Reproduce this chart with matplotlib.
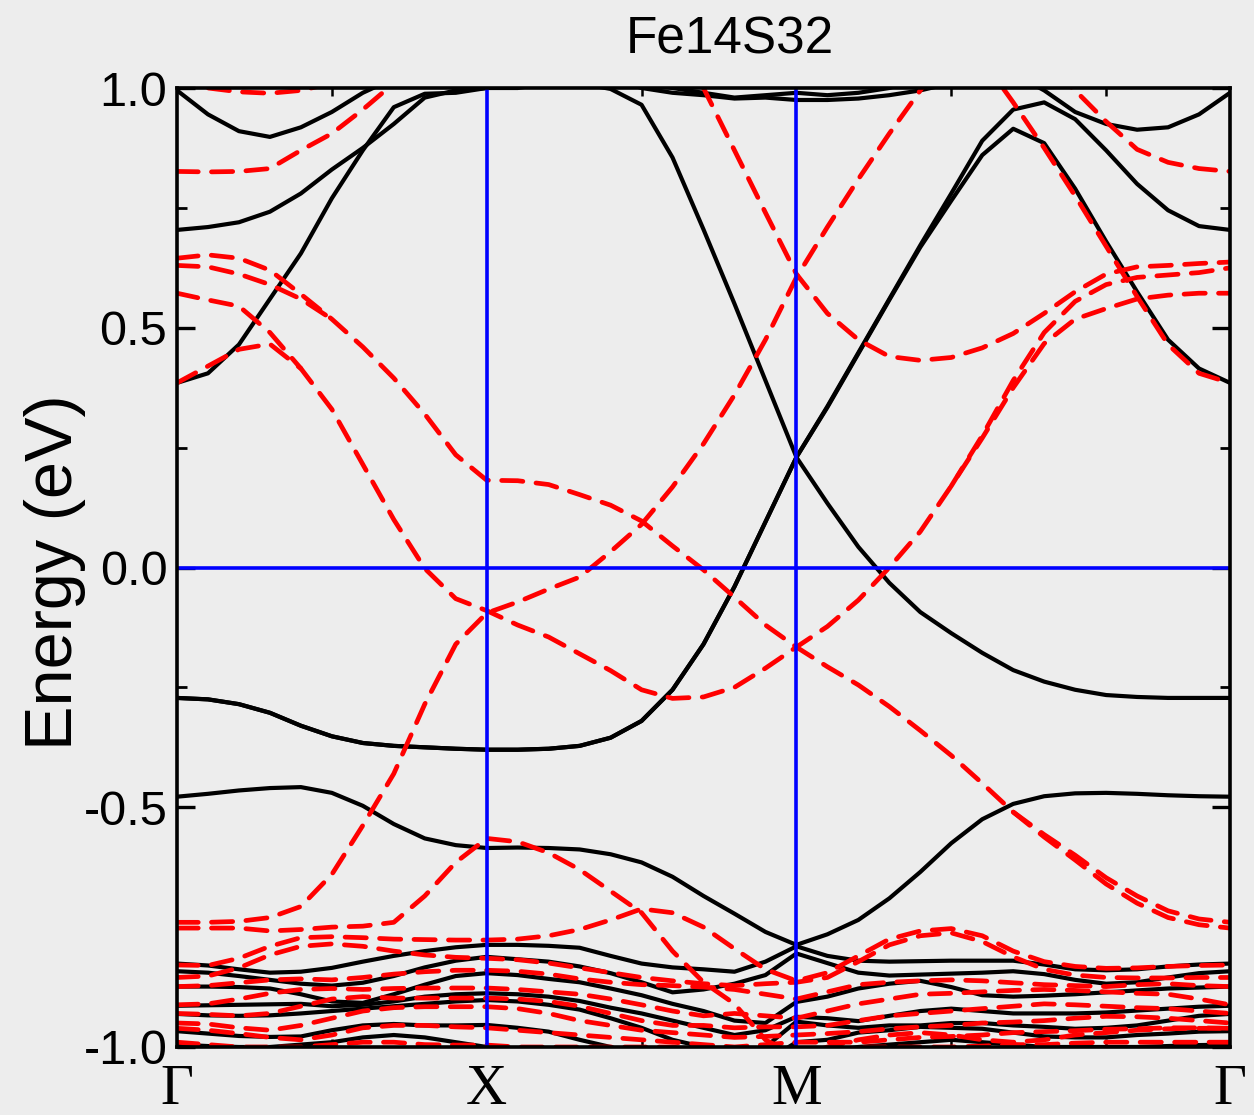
import matplotlib
matplotlib.use("Agg")
import matplotlib.pyplot as plt
import numpy as np

nan = float("nan")  # marks where a band is degenerate with its partner band

# ---------------- data ----------------
title = "Fe14S32"
ylabel = "Energy (eV)"
kpath_labels = ["\u0393", "X", "M", "\u0393"]
kpath_pos = [0.0, 1.0, 2.0, 3.4]
ytick_vals = [-1.0, -0.5, 0.0, 0.5, 1.0]
ytick_text = ["-1.0", "-0.5", "0.0", "0.5", "1.0"]

k = [0.0, 0.1, 0.2, 0.3, 0.4, 0.5, 0.6, 0.7, 0.8, 0.9, 1.0,
     1.1, 1.2, 1.3, 1.4, 1.5, 1.6, 1.7, 1.8, 1.9, 2.0,
     2.1, 2.2, 2.3, 2.4, 2.5, 2.6, 2.7, 2.8, 2.9, 3.0, 3.1, 3.2, 3.3, 3.4]

# spin-up bands (solid black)
b_top = [0.995, 0.945, 0.91, 0.898, 0.918, 0.95, 0.99, 1.02, 1.04, 1.05, 1.05,
         1.06, 1.06, 1.06, 1.06, 1.06, 1.06, 1.06, 1.06, 1.06, 1.06,
         1.06, 1.06, 1.06, 1.06, 1.06, 1.06, 1.06, 1.06, 1.06, 1.06, 1.06, 1.06, 1.06, 1.06]
b_3 = [0.704, 0.71, 0.72, 0.742, 0.78, 0.83, 0.875, 0.925, 0.98, 0.995, 1.0,
       1.0, 1.01, 1.02, 1.02, 1.01, 1.0, 0.99, 0.98, 0.985, 0.99,
       0.985, 0.99, 1.0, 1.02, 1.04, 1.05, 1.03, 0.995, 0.95, 0.925, 0.913, 0.918, 0.945, 0.99]
b_4 = [0.385, 0.405, 0.465, 0.56, 0.655, 0.77, 0.87, 0.96, 0.988, 0.99, 1.0,
       1.02, 1.03, 1.03, 1.02, 1.0, 0.99, 0.985, 0.978, 0.98, 0.975,
       0.975, 0.978, 0.985, 0.995, 1.01, 1.03, 1.05, 1.06, 1.06, 1.06, 1.06, 1.06, 1.06, 1.06]
b_up = [-0.272, -0.275, -0.285, -0.303, -0.33, -0.352, -0.366, -0.372, -0.375, -0.378, -0.38,
        -0.38, -0.378, -0.372, -0.355, -0.32, -0.255, -0.16, -0.04, 0.095, 0.23,
        0.334, 0.446, 0.558, 0.668, 0.765, 0.86, 0.915, 0.885, 0.79, 0.68, 0.575, 0.475, 0.415, 0.385]
b_5 = [-0.272, -0.275, -0.285, -0.303, -0.33, -0.352, -0.366, -0.372, -0.375, -0.378, -0.38,
       -0.38, -0.378, -0.372, -0.355, -0.32, -0.255, -0.16, -0.04, 0.095, 0.23,
       0.336, 0.448, 0.56, 0.672, 0.78, 0.89, 0.955, 0.97, 0.935, 0.87, 0.8, 0.745, 0.712, 0.704]
b_dn = [1.1, 1.1, 1.1, 1.1, 1.1, 1.1, 1.1, 1.1, 1.1, 1.1, 1.1,
        1.08, 1.05, 1.01, 0.998, 0.965, 0.855, 0.705, 0.55, 0.39, 0.23,
        0.134, 0.043, -0.032, -0.093, -0.137, -0.178, -0.214, -0.238, -0.255, -0.266, -0.27, -0.272, -0.272, -0.272]
b_6 = [-0.478, -0.472, -0.465, -0.46, -0.458, -0.47, -0.497, -0.535, -0.565, -0.579, -0.585,
       -0.584, -0.585, -0.588, -0.598, -0.615, -0.645, -0.685, -0.722, -0.76, -0.787,
       -0.765, -0.735, -0.69, -0.635, -0.575, -0.525, -0.493, -0.477, -0.471, -0.47, -0.472, -0.475, -0.477, -0.478]
kb1 = [-0.826, -0.830, -0.838, -0.845, -0.843, -0.835, -0.822, -0.81, -0.80, -0.792, -0.787,
       -0.787, -0.789, -0.793, -0.81, -0.826, -0.834, -0.838, -0.843, -0.822, -0.79,
       -0.81, -0.82, -0.822, -0.821, -0.82, -0.82, -0.82, -0.828, -0.838, -0.84, -0.838, -0.832, -0.828, -0.826]
kb2 = [-0.842, -0.845, -0.852, -0.86, -0.868, -0.872, -0.866, -0.852, -0.834, -0.82, -0.812,
       -0.817, -0.822, -0.832, -0.846, -0.865, -0.886, -0.88, -0.868, -0.85, -0.805,
       -0.825, -0.845, -0.851, -0.849, -0.847, -0.845, -0.842, -0.848, -0.86, -0.868, -0.865, -0.855, -0.846, -0.842]
kb3 = [-0.874, -0.874, -0.875, -0.878, -0.89, -0.905, -0.908, -0.89, -0.87, -0.852, -0.846,
       -0.85, -0.858, -0.865, -0.878, -0.892, -0.91, -0.925, -0.945, -0.95, -0.906,
       -0.895, -0.878, -0.868, -0.862, -0.875, -0.892, -0.895, -0.893, -0.89, -0.886, -0.882, -0.878, -0.876, -0.874]
kb4 = [-0.914, -0.913, -0.912, -0.911, -0.91, -0.915, -0.912, -0.905, -0.895, -0.89, -0.888,
       -0.89, -0.895, -0.904, -0.918, -0.93, -0.945, -0.96, -0.975, -0.965, -0.937,
       -0.94, -0.946, -0.935, -0.925, -0.92, -0.925, -0.93, -0.93, -0.93, -0.928, -0.924, -0.92, -0.916, -0.914]
kb5 = [-0.931, -0.934, -0.935, -0.934, -0.93, -0.925, -0.92, -0.915, -0.91, -0.905, -0.902,
       -0.905, -0.912, -0.922, -0.94, -0.96, -0.985, -1.0, -1.01, -1.0, -0.947,
       -0.955, -0.96, -0.955, -0.955, -0.95, -0.95, -0.955, -0.958, -0.962, -0.96, -0.955, -0.945, -0.935, -0.931]
kb6 = [-0.967, -0.972, -0.977, -0.979, -0.978, -0.965, -0.955, -0.952, -0.955, -0.955, -0.954,
       -0.96, -0.968, -0.985, -1.0, -1.02, -1.03, -1.04, -1.04, -1.03, -0.99,
       -0.985, -0.97, -0.965, -0.958, -0.96, -0.962, -0.97, -0.978, -0.98, -0.98, -0.975, -0.972, -0.968, -0.967]
kb7 = [-0.995, -0.998, -1.0, -1.0, -0.995, -0.99, -0.98, -0.975, -0.98, -0.99, -1.0,
       -1.01, -1.02, -1.03, -1.04, -1.05, -1.06, -1.06, -1.06, -1.05, -1.02,
       -1.01, -1.0, -0.995, -0.99, -0.985, -0.99, -0.995, -1.0, -1.0, -1.0, -1.0, -0.998, -0.996, -0.995]

# spin-down bands (dashed red)
r_a = [1.03, 1.0, 0.992, 0.989, 0.995, 1.01, 1.04, 1.08, 1.1, 1.1, 1.1,
       1.1, 1.1, 1.1, 1.1, 1.1, 1.1, 1.1, 1.1, 1.1, 1.1,
       1.1, 1.1, 1.1, 1.1, 1.1, 1.06, 0.97, 0.875, 0.775, 0.67, 0.565, 0.465, 0.405, 0.385]
r_b = [0.826, 0.825, 0.826, 0.832, 0.87, 0.905, 0.955, 1.01, 1.06, 1.1, 1.1,
       1.1, 1.1, 1.1, 1.1, 1.1, 1.1, 1.1, 1.1, 1.1, 1.1,
       1.1, 1.1, 1.1, 1.1, 1.1, 1.1, 1.1, 1.05, 0.995, 0.93, 0.872, 0.845, 0.832, 0.826]
r_c = [1.2, 1.2, 1.2, 1.2, 1.2, 1.2, 1.2, 1.2, 1.2, 1.2, 1.2,
       1.2, 1.2, 1.2, 1.2, 1.2, 1.13, 1.0, 0.87, 0.74, 0.612,
       0.53, 0.475, 0.44, 0.432, 0.438, 0.458, 0.488, 0.53, 0.575, 0.612, 0.627, 0.63, 0.634, 0.637]
r_d = [0.645, 0.652, 0.645, 0.62, 0.57, 0.518, 0.46, 0.395, 0.32, 0.235, 0.182,
       0.181, 0.173, 0.152, 0.13, 0.097, 0.045, -0.005, -0.062, -0.12, -0.166,
       -0.207, -0.245, -0.29, -0.34, -0.392, -0.45, -0.51, -0.557, -0.6, -0.647, -0.685, -0.716, -0.733, -0.74]
r_j = [0.63, 0.627, 0.612, 0.59, 0.56, 0.518, nan, nan, nan, nan, nan,
       nan, nan, nan, nan, nan, nan, nan, nan, nan, nan,
       nan, nan, nan, nan, nan, nan, -0.51, -0.562, -0.61, -0.66, -0.7, -0.73, -0.745, -0.752]
r_e = [-0.74, -0.74, -0.738, -0.73, -0.707, -0.64, -0.538, -0.43, -0.285, -0.16, -0.095,
       -0.072, -0.045, -0.02, 0.033, 0.09, 0.168, 0.258, 0.36, 0.475, 0.605,
       0.71, 0.81, 0.905, 0.995, 1.08, 1.15, 1.2, 1.2, 1.2, 1.2, 1.2, 1.2, 1.2, 1.2]
r_f = [0.385, 0.42, 0.455, 0.466, 0.415, 0.33, 0.215, 0.1, -0.002, -0.065, -0.09,
       -0.12, -0.145, -0.18, -0.215, -0.255, -0.273, -0.27, -0.25, -0.21, -0.166,
       -0.123, -0.068, 0.0, 0.075, 0.17, 0.27, 0.375, 0.467, 0.518, 0.54, 0.56, 0.568, 0.572, 0.572]
r_f2 = [0.572, 0.558, 0.545, 0.49, 0.415, nan, nan, nan, nan, nan, nan,
        nan, nan, nan, nan, nan, nan, nan, nan, nan, nan,
        nan, nan, nan, nan, 0.17, 0.275, 0.39, 0.49, 0.555, 0.59, 0.605, 0.61, 0.615, 0.625]
r_k = [-0.829, -0.83, -0.815, -0.79, -0.772, -0.77, -0.772, -0.775, -0.776, -0.777, -0.777,
       -0.775, -0.768, -0.755, -0.735, -0.712, -0.72, -0.75, -0.795, -0.838, -0.862,
       -0.845, -0.81, -0.775, -0.758, -0.753, -0.768, -0.8, -0.822, -0.832, -0.836, -0.835, -0.832, -0.83, -0.829]
r_k2 = [-0.855, -0.852, -0.835, -0.808, -0.79, -0.785, -0.79, -0.8, -0.808, -0.813, -0.815,
        -0.818, -0.825, -0.835, -0.845, -0.855, -0.862, -0.868, -0.872, -0.868, -0.865,
        -0.855, -0.822, -0.787, -0.768, -0.762, -0.78, -0.812, -0.838, -0.85, -0.855, -0.856, -0.856, -0.855, -0.855]
r_m = [-0.752, -0.752, -0.752, -0.758, -0.755, -0.75, -0.748, -0.74, -0.685, -0.615, -0.565,
       -0.572, -0.595, -0.63, -0.675, -0.72, -0.8, -0.865, -0.91, -0.985, -1.02,
       -1.0, -0.985, -0.975, -0.97, -0.975, -0.985, -0.99, -0.985, -0.975, -0.97, -0.965, -0.962, -0.961, -0.961]
kr1 = [-0.874, -0.872, -0.866, -0.86, -0.858, -0.86, -0.855, -0.848, -0.843, -0.84, -0.84,
       -0.842, -0.848, -0.858, -0.865, -0.87, -0.872, -0.875, -0.88, -0.89, -0.9,
       -0.885, -0.87, -0.865, -0.862, -0.86, -0.862, -0.866, -0.87, -0.872, -0.874, -0.87, -0.868, -0.872, -0.874]
kr2 = [-0.912, -0.91, -0.9, -0.888, -0.88, -0.878, -0.88, -0.878, -0.877, -0.877, -0.877,
       -0.88, -0.885, -0.89, -0.9, -0.912, -0.925, -0.935, -0.93, -0.935, -0.94,
       -0.925, -0.91, -0.9, -0.89, -0.888, -0.885, -0.882, -0.88, -0.882, -0.885, -0.888, -0.89, -0.9, -0.912]
kr3 = [-0.93, -0.932, -0.935, -0.93, -0.915, -0.9, -0.895, -0.898, -0.898, -0.898, -0.898,
       -0.9, -0.905, -0.915, -0.93, -0.945, -0.955, -0.955, -0.96, -0.958, -0.958,
       -0.955, -0.945, -0.935, -0.93, -0.925, -0.92, -0.915, -0.91, -0.912, -0.915, -0.918, -0.92, -0.925, -0.93]
kr4 = [-0.95, -0.952, -0.96, -0.965, -0.955, -0.94, -0.925, -0.918, -0.916, -0.916, -0.916,
       -0.92, -0.93, -0.945, -0.955, -0.965, -0.97, -0.975, -0.98, -0.978, -0.975,
       -0.972, -0.968, -0.962, -0.958, -0.955, -0.95, -0.948, -0.945, -0.94, -0.936, -0.937, -0.94, -0.945, -0.95]
kr5 = [-0.961, -0.965, -0.972, -0.98, -0.985, -0.975, -0.96, -0.955, -0.955, -0.958, -0.96,
       -0.965, -0.97, -0.975, -0.98, -0.985, -0.99, -0.995, -1.0, -0.995, -0.99,
       -0.99, -0.99, -0.985, -0.98, -0.978, -0.975, -0.97, -0.968, -0.966, -0.963, -0.962, -0.96, -0.96, -0.961]
kr6 = [-0.99, -0.995, -1.0, -1.0, -1.0, -0.995, -0.99, -0.99, -0.995, -0.996, -0.996,
       -1.0, -1.0, -1.0, -1.0, -1.0, -1.0, -1.01, -1.02, -1.02, -1.02,
       -1.01, -1.0, -1.0, -1.0, -1.0, -0.998, -0.995, -0.995, -0.992, -0.99, -0.99, -0.99, -0.99, -0.99]

up_bands = [b_top, b_3, b_4, b_up, b_5, b_dn, b_6, kb1, kb2, kb3, kb4, kb5, kb6, kb7]
dn_bands = [r_a, r_b, r_c, r_d, r_j, r_e, r_f, r_f2, r_k, r_k2, r_m, kr1, kr2, kr3, kr4, kr5, kr6]

# ---------------- figure ----------------
W, H = 1254, 1115
bg = "#ededed"
fig = plt.figure(figsize=(W / 100, H / 100), dpi=100, facecolor=bg)
ax = fig.add_axes([177 / W, 1 - 1047 / H, (1230 - 177) / W, (1047 - 88) / H])
ax.set_facecolor(bg)

for band in up_bands:
    ax.plot(k, band, color="black", lw=3.0, solid_capstyle="round",
            solid_joinstyle="round", zorder=2)
for band in dn_bands:
    ax.plot(k, band, color="#ff0000", lw=3.4, linestyle=(0, (4.5, 2.8)),
            dash_capstyle="round", dash_joinstyle="round", zorder=3)

for xv in kpath_pos[1:3]:
    ax.axvline(xv, color="#0000ff", lw=2.6, zorder=5)
ax.axhline(0.0, color="#0000ff", lw=2.6, zorder=5)

ax.set_xlim(kpath_pos[0], kpath_pos[-1])
ax.set_ylim(-1.0, 1.0)

for sp in ax.spines.values():
    sp.set_linewidth(2.6)
    sp.set_zorder(6)

ax.set_yticks(ytick_vals)
ax.set_yticklabels(ytick_text, fontsize=35, family="Liberation Sans")
ax.set_yticks(np.arange(-0.75, 1.0, 0.5), minor=True)
ax.tick_params(axis="y", which="major", direction="in", length=13, width=2.4,
               pad=7, right=True)
ax.tick_params(axis="y", which="minor", direction="in", length=7, width=2.0, right=True)

ax.set_xticks(kpath_pos)
ax.set_xticklabels(kpath_labels, fontsize=41, family="Liberation Serif")
ax.set_xticks([0.5, 1.5, 2.5, 3.0], minor=True)
ax.tick_params(axis="x", which="major", direction="in", length=0, pad=12)
ax.tick_params(axis="x", which="minor", direction="in", length=6, width=1.8, top=True)

fig.text(730 / W, 1 - 40 / H, title, fontsize=37, family="Liberation Sans",
         ha="center", va="center")
fig.text(55 / W, 1 - 572 / H, ylabel, fontsize=48, family="Liberation Sans",
         rotation=90, ha="center", va="center")

fig.savefig("out.png", dpi=100, facecolor=bg)
